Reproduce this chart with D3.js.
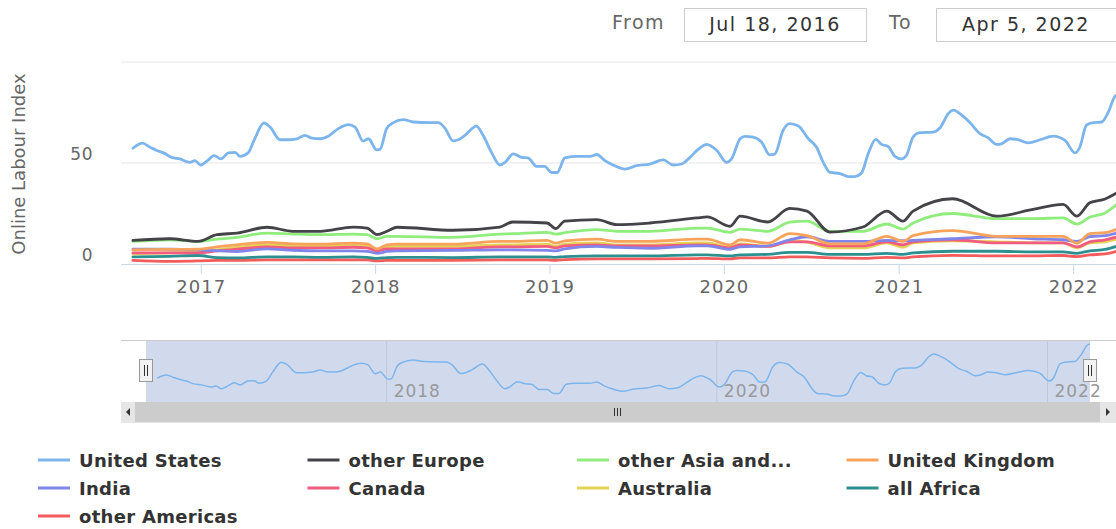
<!DOCTYPE html>
<meta charset="utf-8"/>
<style>
  body { margin: 0; background: #fff; }
  svg text { font-family: "DejaVu Sans", sans-serif; }
  .grid line { stroke: #e6e6e6; }
  .lines path { fill: none; stroke-width: 2.8px; stroke-linejoin: round; stroke-linecap: round; }
</style>
<svg width="1116" height="529"></svg>
<script src="https://d3js.org/d3.v7.min.js"></script>
<script>

  // US weekly-ish readings
  var usDates = ["2016-08-12","2016-09-01","2016-09-17","2016-10-01","2016-10-15","2016-11-01","2016-11-18","2016-12-09","2016-12-20","2017-01-01",
    "2017-01-15","2017-01-29","2017-02-12","2017-02-28","2017-03-14","2017-03-24","2017-04-10","2017-04-24","2017-05-13","2017-05-26",
    "2017-06-16","2017-06-30","2017-07-21","2017-08-07","2017-08-21","2017-09-08","2017-09-25","2017-10-16","2017-11-06","2017-11-20",
    "2017-12-07","2017-12-18","2018-01-04","2018-01-11","2018-01-25","2018-02-08","2018-03-01","2018-03-22","2018-04-26","2018-05-13",
    "2018-05-27","2018-06-13","2018-06-24","2018-07-08","2018-08-01","2018-08-15","2018-09-02","2018-09-19","2018-09-30","2018-10-17",
    "2018-11-04","2018-11-17","2018-12-05","2018-12-22","2019-01-05","2019-01-17","2019-02-02","2019-02-23","2019-03-27","2019-04-10",
    "2019-04-27","2019-05-14","2019-06-08","2019-07-02","2019-07-30","2019-08-27","2019-09-17","2019-10-05","2019-10-22","2019-11-08",
    "2019-11-26","2019-12-17","2020-01-07","2020-01-17","2020-02-04","2020-02-14","2020-03-02","2020-03-20","2020-04-06","2020-04-17",
    "2020-05-04","2020-05-18","2020-06-05","2020-06-26","2020-07-13","2020-07-27","2020-08-10","2020-08-31","2020-09-17","2020-10-01",
    "2020-10-15","2020-10-29","2020-11-14","2020-11-26","2020-12-10","2020-12-24","2021-01-07","2021-01-17","2021-01-31","2021-02-14",
    "2021-03-14","2021-03-28","2021-04-15","2021-04-25","2021-05-13","2021-05-30","2021-06-20","2021-07-07","2021-07-25","2021-08-04",
    "2021-08-22","2021-09-05","2021-09-29","2021-10-24","2021-11-20","2021-12-15","2022-01-05","2022-01-15","2022-01-29","2022-02-12",
    "2022-03-02","2022-03-16","2022-03-29","2022-04-05"];
  var usValues = [57.3,59.8,57.8,56.2,55,52.8,52,50.3,51.2,49,
    51.2,53.7,52,55,55.3,53.3,55,62,69.8,67.8,
    61.5,61.5,62,63.7,62.3,62,63.3,67,69,67.8,
    60.8,62,56.5,56.7,67,70,71.5,70.3,70,70,
    67.3,61,61.5,63.7,68.3,63.7,55,49,50.3,54.5,
    52.8,52.5,48.3,48.3,45.3,45.3,52.5,53.3,53.3,54.2,
    51.2,49,47,48.7,49.5,51.5,49,49.5,52.8,56.7,
    59.2,56.2,50.3,52,62,63.2,62.8,60.3,54,54.5,
    66.2,69.5,68.3,62,57.8,50.3,45.3,44.8,43.3,43.3,
    45,54.5,61.7,59.2,58.2,53.3,52,53.7,62.8,65,
    65.3,67.3,74.5,76.2,73.7,70,64.5,62.5,59.2,59.5,
    62,61.7,60,61.5,63.3,61.2,55,57.8,68.7,70,
    70.3,75.3,82.8,84];

  // shared dates for the smaller series
  var dates = ["2016-08-12","2016-10-28","2016-12-26","2017-02-04","2017-03-18","2017-05-20","2017-07-13","2017-09-08","2017-11-16","2017-12-15",
    "2018-01-05","2018-01-26","2018-02-16","2018-06-13","2018-09-19","2018-10-16","2018-12-27","2019-01-14","2019-02-02","2019-04-10",
    "2019-05-22","2019-07-30","2019-11-06","2019-11-27","2020-01-14","2020-02-04","2020-04-02","2020-05-18","2020-06-23","2020-08-10",
    "2020-10-18","2020-12-07","2021-01-10","2021-01-31","2021-04-24","2021-07-25","2021-10-09","2021-12-11","2022-01-09","2022-02-05",
    "2022-03-09","2022-04-05"];
  var otherEurope = [11.7,12.5,11.2,14.5,15.3,18.2,16.2,16.2,18.3,17.8,
    14.5,16.2,18.2,16.7,18.3,20.8,20.3,17.5,21.2,22,
    19.5,20.3,22.8,23.3,18.7,23.7,20.8,27.5,26.2,15.8,
    18.3,26.2,21.2,26.2,32.3,23.7,27,29.5,23.7,30.3,
    32.2,35.5];
  var otherAsia = [11.2,12,11.2,12.3,13.2,15.3,14.8,14.5,14.8,14.5,
    12.5,13.7,13.7,13.2,14.8,15,15.7,14.8,15.5,17,
    16.2,16.2,17.8,17.8,15.7,17.3,16.2,20.7,21.2,16.2,
    16.2,19.8,17.3,20.3,25,22.5,22.5,22.8,19.8,23.2,
    25.3,30];
  var unitedKingdom = [7,7.2,7.3,8.5,9.5,10.7,10,9.8,10.3,10,
    7.5,9.5,9.8,9.8,11.2,11.2,11.7,10.3,11.5,12.3,
    11.2,11.2,12.3,12.3,9.5,12,10.3,15,14,10,
    10,13.7,11.2,14,16.5,13.7,13.7,13.7,10.3,15,
    15.5,17.5];
  var india = [7.3,7.3,7,6.5,6.2,7.5,6.8,6.5,6.5,6.3,
    5.3,6.2,6.5,6.7,7,7,6.7,6.5,7.5,8.7,
    8.2,7.8,9,9,7.3,8.5,9,12,13.5,11.2,
    11.2,11.7,11.5,11.7,12.5,13.5,12.5,12,11.2,13.5,
    14,15.5];
  var canada = [5.5,5.5,5.5,6.5,7.3,8.5,8,8,8.3,8,
    6.5,7.5,7.5,7.5,8.5,8.5,8.7,8,9,9.5,
    9,9,9.5,9.5,8,9.5,8.7,11,11,9,
    9,11,9.5,11,12,10.5,10.5,10.5,8.5,11,
    12,13.5];
  var australia = [5,5.5,6,7,8.2,9.5,9,8.7,9.2,9,
    6.5,8.5,8.7,8.7,9.5,9.5,9.8,8.7,9.8,10.5,
    9.5,9.5,10.5,10.5,8.3,10,8.7,11.5,10.8,8,
    8,10.5,8.3,10.5,11.5,11,10.5,10.5,8,10.5,
    11,12.5];
  var allAfrica = [3.5,3.8,4.2,3.2,3,3.5,3.5,3.3,3.5,3.3,
    2.8,3.2,3.3,3.2,3.5,3.5,3.5,3.3,3.7,4,
    4,4,4.5,4.5,4,4.5,4.8,5.8,5.8,4.8,
    4.8,5.3,4.8,5.5,6.3,6.3,6,6,5.3,6.5,
    7.2,9];
  var otherAmericas = [1.8,1.3,1.5,1.8,1.8,2,2,2,2,2,
    1.5,1.8,1.8,1.8,2,2,2,1.8,2.2,2.5,
    2.5,2.5,2.7,2.8,2.5,3,3,3.5,3.5,3,
    2.8,3.3,3,3.5,4.3,4,4,4.2,3.7,4.5,
    5,6.5];

  var seriesNames = ["United States","other Europe","other Asia and...","United Kingdom","India","Canada","Australia","all Africa","other Americas"];
  var colors = ["#7cb5ec","#434348","#90ed7d","#f7a35c","#8085e9","#f15c80","#e4d354","#2b908f","#f45b5b"];
  var yTicks = [0, 50, 100];
  var fromLabel = "Jul 18, 2016", toLabel = "Apr 5, 2022";

  var parse = d3.timeParse("%Y-%m-%d");
  var start = parse("2016-07-18"), end = parse("2022-04-05");

  var series = [
    d3.zip(usDates, usValues),
    d3.zip(dates, otherEurope), d3.zip(dates, otherAsia), d3.zip(dates, unitedKingdom),
    d3.zip(dates, india), d3.zip(dates, canada), d3.zip(dates, australia),
    d3.zip(dates, allAfrica), d3.zip(dates, otherAmericas)
  ].map(function (s) { return s.map(function (p) { return { date: parse(p[0]), value: p[1] }; }); });

  var svg = d3.select("svg");

  var x = d3.scaleTime().domain([start, end]).range([121, 1118]);
  var y = d3.scaleLinear().domain([0, 100]).range([264, 62]);

  svg.append("defs").append("clipPath").attr("id", "plot")
    .append("rect").attr("x", 121).attr("y", 40).attr("width", 1000).attr("height", 230);

  // gridlines
  svg.append("g").attr("class", "grid")
    .selectAll("line").data(yTicks.slice(1)).enter().append("line")
    .attr("x1", 121).attr("x2", 1116)
    .attr("y1", function (d) { return y(d); }).attr("y2", function (d) { return y(d); });

  // y labels (100 is hidden in the original)
  svg.append("g").selectAll("text").data(yTicks.slice(0, 2)).enter().append("text")
    .attr("x", 93).attr("y", function (d) { return y(d) - 3; })
    .attr("text-anchor", "end").attr("fill", "#666").style("font-size", "17px").style("letter-spacing", "0.5px")
    .text(function (d) { return d; });

  svg.append("text")
    .attr("transform", "translate(25,164) rotate(-90)")
    .attr("text-anchor", "middle").attr("fill", "#666").style("font-size", "18px")
    .text("Online Labour Index");

  // x axis
  var xAxis = d3.axisBottom(x).ticks(d3.timeYear.every(1)).tickFormat(d3.timeFormat("%Y")).tickSize(10).tickPadding(6);
  var gx = svg.append("g").attr("transform", "translate(0,264)").call(xAxis);
  gx.select(".domain").attr("stroke", "#ccd6eb").attr("d", "M121,0.5H1116");
  gx.selectAll(".tick line").attr("stroke", "#ccd6eb");
  gx.selectAll(".tick text").attr("fill", "#666").style("font-size", "18px")
    .style("letter-spacing", "1px").style("font-family", "DejaVu Sans");

  var line = d3.line()
    .x(function (d) { return x(d.date); })
    .y(function (d) { return y(d.value); })
    .curve(d3.curveMonotoneX);

  svg.append("g").attr("class", "lines").attr("clip-path", "url(#plot)")
    .selectAll("path").data(series.slice().reverse()).enter().append("path")
    .attr("stroke", function (d, i) { return colors[colors.length - 1 - i]; })
    .attr("d", line);

  // range inputs
  var inputFont = { "font-size": "19px", "letter-spacing": "1.5px" };
  svg.append("text").attr("x", 612).attr("y", 29).attr("fill", "#666").style("font-size", "19px").style("letter-spacing", "1.5px").text("From");
  svg.append("text").attr("x", 889).attr("y", 29).attr("fill", "#666").style("font-size", "19px").style("letter-spacing", "1.5px").text("To");
  svg.append("rect").attr("x", 684.5).attr("y", 8.5).attr("width", 182).attr("height", 33)
    .attr("fill", "#fff").attr("stroke", "#ccc");
  svg.append("rect").attr("x", 936.5).attr("y", 8.5).attr("width", 190).attr("height", 33)
    .attr("fill", "#fff").attr("stroke", "#ccc");
  svg.append("text").attr("x", 775).attr("y", 31).attr("text-anchor", "middle").attr("fill", "#333")
    .style("font-size", inputFont["font-size"]).style("letter-spacing", inputFont["letter-spacing"]).text(fromLabel);
  svg.append("text").attr("x", 1026).attr("y", 31).attr("text-anchor", "middle").attr("fill", "#333")
    .style("font-size", inputFont["font-size"]).style("letter-spacing", inputFont["letter-spacing"]).text(toLabel);

  // navigator
  var nx = d3.scaleTime().domain([start, end]).range([146, 1090]);
  var ny = d3.scaleLinear().domain(d3.extent(usValues)).range([396, 344]);
  var nav = svg.append("g");
  nav.append("line").attr("x1", 121).attr("x2", 1116).attr("y1", 340.5).attr("y2", 340.5).attr("stroke", "#ccc");
  nav.selectAll(".ngrid").data(nx.ticks(d3.timeYear.every(2))).enter().append("line")
    .attr("x1", function (d) { return nx(d); }).attr("x2", function (d) { return nx(d); })
    .attr("y1", 341).attr("y2", 402).attr("stroke", "#e6e6e6");
  nav.append("rect").attr("x", nx(start)).attr("y", 341).attr("width", nx(end) - nx(start)).attr("height", 61)
    .attr("fill", "rgba(102,133,194,0.3)");
  nav.selectAll(".nlab").data(nx.ticks(d3.timeYear.every(2))).enter().append("text")
    .attr("x", function (d) { return nx(d) + 7; }).attr("y", 397)
    .attr("fill", "#999").style("font-size", "17px").style("letter-spacing", "1px")
    .text(d3.timeFormat("%Y"));
  nav.append("path").datum(series[0]).attr("fill", "none").attr("stroke", "#7cb5ec").attr("stroke-width", 1.5)
    .attr("d", d3.line().x(function (d) { return nx(d.date); }).y(function (d) { return ny(d.value); }).curve(d3.curveMonotoneX));

  [nx(start), nx(end)].forEach(function (hx) {
    hx = Math.round(hx);
    nav.append("rect").attr("x", hx - 6.5).attr("y", 359.5).attr("width", 13).attr("height", 22)
      .attr("fill", "#f2f2f2").attr("stroke", "#999");
    nav.append("path").attr("d", "M" + (hx - 1.5) + ",365V376M" + (hx + 1.5) + ",365V376")
      .attr("stroke", "#333").attr("stroke-width", 1);
  });

  // scrollbar
  var sb = svg.append("g");
  sb.append("rect").attr("x", 121).attr("y", 402).attr("width", 995).attr("height", 20).attr("fill", "#f2f2f2");
  sb.append("rect").attr("x", 135).attr("y", 402).attr("width", 965).attr("height", 20).attr("fill", "#ccc");
  sb.append("rect").attr("x", 121).attr("y", 402).attr("width", 14).attr("height", 20).attr("fill", "#e6e6e6");
  sb.append("rect").attr("x", 1100).attr("y", 402).attr("width", 16).attr("height", 20).attr("fill", "#e6e6e6");
  sb.append("path").attr("d", "M130,408L126,412L130,416Z").attr("fill", "#333");
  sb.append("path").attr("d", "M1106,408L1110,412L1106,416Z").attr("fill", "#333");
  sb.append("path").attr("d", "M614.5,408V416M617.5,408V416M620.5,408V416").attr("stroke", "#333");
  sb.append("line").attr("x1", 121).attr("x2", 1116).attr("y1", 422.5).attr("y2", 422.5).attr("stroke", "#e6e6e6");

  // legend
  var legend = svg.append("g").selectAll("g").data(seriesNames).enter().append("g")
    .attr("transform", function (d, i) { return "translate(" + (38 + (i % 4) * 269.5) + "," + (460 + Math.floor(i / 4) * 28) + ")"; });
  legend.append("line").attr("x1", 0).attr("x2", 32).attr("y1", 0).attr("y2", 0)
    .attr("stroke", function (d, i) { return colors[i]; }).attr("stroke-width", 3);
  legend.append("text").attr("x", 41).attr("y", 7).attr("fill", "#333")
    .style("font-size", "18px").style("font-weight", "bold").style("letter-spacing", "0.3px")
    .text(function (d) { return d; });

</script>
